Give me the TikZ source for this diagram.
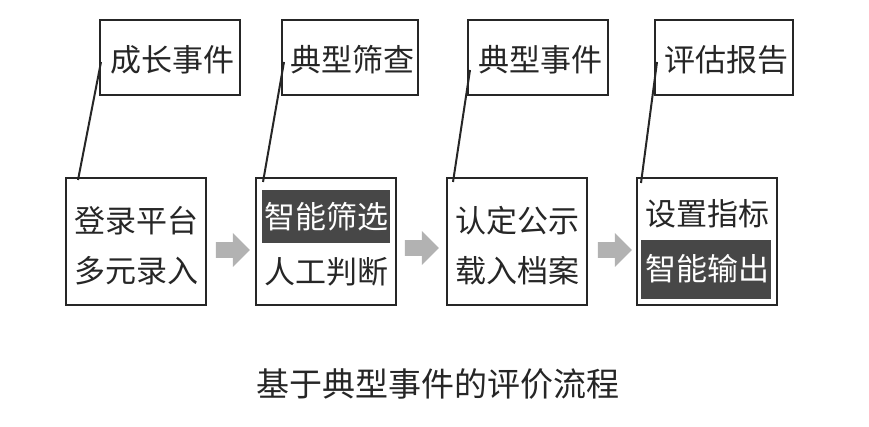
\documentclass[tikz,border=0pt]{standalone}
\usepackage{fontspec}
\setmainfont{Noto Sans CJK SC}
\usetikzlibrary{shapes.arrows}
\begin{document}
\begin{tikzpicture}[x=1pt,y=-1pt,
 box/.style={draw=black!85,line width=1.2pt},
 txt/.style={font=\fontsize{31}{34}\selectfont,text=black!85,inner sep=0},
 hl/.style={fill=black!72},
 ln/.style={line width=2pt,black!85},
 arr/.style={single arrow,fill=black!30,minimum height=34pt,minimum width=34pt,single arrow head extend=5pt,inner sep=4pt}]
\useasboundingbox (0,0) rectangle (869,427);
% top boxes
\draw[box] (100,20) rectangle (240,95); \node[txt] (t1) at (172,60) {成长事件};
\draw[box] (282,20) rectangle (418,95); \node[txt] (t2) at (352,60) {典型筛查};
\draw[box] (468,20) rectangle (608,95); \node[txt] (t3) at (540,60) {典型事件};
\draw[box] (655,20) rectangle (793,95); \node[txt] (t4) at (726,60) {评估报告};
% bottom boxes
\draw[box] (66,178) rectangle (206,305);
\node[txt] (a1) at (136,221) {登录平台};
\node[txt] (a2) at (136,271) {多元录入};
\draw[box] (256,178) rectangle (396,305);
\fill[hl] (262,190) rectangle (390,243);
\node[txt,text=white] (b1) at (326,217) {智能筛选};
\node[txt] (b2) at (326,272) {人工判断};
\draw[box] (447,178) rectangle (587,305);
\node[txt] (c1) at (517,221) {认定公示};
\node[txt] (c2) at (517,271) {载入档案};
\draw[box] (637,178) rectangle (777,305);
\node[txt] (d1) at (707,214) {设置指标};
\fill[hl] (641,240) rectangle (771,299);
\node[txt,text=white] (d2) at (707,269) {智能输出};
% callout lines
\coordinate (p1) at (101,62); \coordinate (q1) at (78,180);
\coordinate (p2) at (284,62); \coordinate (q2) at (263,182);
\coordinate (p3) at (470,70); \coordinate (q3) at (453,182);
\coordinate (p4) at (657,62); \coordinate (q4) at (641,183);
\draw[ln] (p1)--(q1); \draw[ln] (p2)--(q2); \draw[ln] (p3)--(q3); \draw[ln] (p4)--(q4);
% arrows
\node[arr] (r1) at (229,250) {};
\node[arr] (r2) at (418,248) {};
\node[arr] (r3) at (611,250) {};
\node[font=\fontsize{33}{36}\selectfont,text=black!85] (cap) at (438,384) {基于典型事件的评价流程};
\end{tikzpicture}
\end{document}
